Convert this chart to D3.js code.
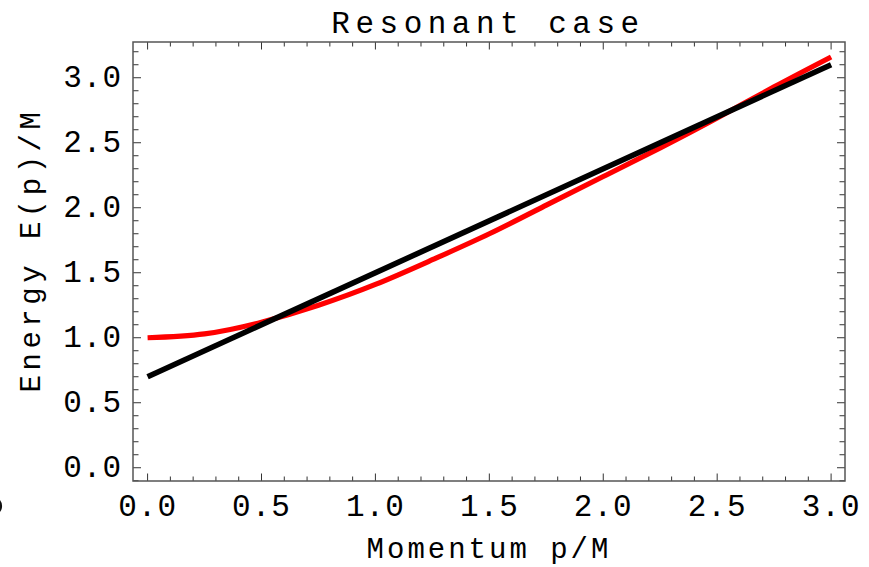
<!DOCTYPE html>
<html>
<head>
<meta charset="utf-8">
<script src="https://cdn.jsdelivr.net/npm/d3@7"></script>
<style>
  html, body { margin: 0; padding: 0; background: #fff; }
  svg { display: block; }
  text { font-family: "Liberation Mono", "Courier New", monospace; fill: #000; }
</style>
</head>
<body>
<svg id="chart" width="869" height="567"></svg>
<script>
// Dispersion curves: momentum p/M against energy E(p)/M
const momentum   = [0, 0.25, 0.5, 0.75, 1.0, 1.25, 1.5, 1.75, 2.0, 2.25, 2.5, 2.75, 3.0];
const energyRed  = [1.00, 1.03, 1.12, 1.25, 1.41, 1.60, 1.80, 2.02, 2.24, 2.46, 2.69, 2.93, 3.16];
const lineMomentum = [0, 3];
const energyBlack  = [0.70, 3.10];

const xMajor = [0, 0.5, 1.0, 1.5, 2.0, 2.5, 3.0];
const yMajor = [0, 0.5, 1.0, 1.5, 2.0, 2.5, 3.0];
const xLabels = ["0.0", "0.5", "1.0", "1.5", "2.0", "2.5", "3.0"];
const yLabels = ["0.0", "0.5", "1.0", "1.5", "2.0", "2.5", "3.0"];
const xMinor = d3.range(0, 31).map(i => i / 10);
const yMinor = d3.range(-1, 33).map(i => i / 10);

const titleText = "Resonant case";
const xTitle = "Momentum p/M";
const yTitle = "Energy E(p)/M";

const svg = d3.select("#chart");
const frameL = 133, frameR = 845, frameT = 42, frameB = 481;

const x = d3.scaleLinear().domain([-0.064, 3.061]).range([frameL, frameR]);
const y = d3.scaleLinear().domain([-0.102, 3.275]).range([frameB, frameT]);

// plotted curves, clipped to the frame
svg.append("clipPath").attr("id", "plotclip")
  .append("rect").attr("x", frameL).attr("y", frameT)
  .attr("width", frameR - frameL).attr("height", frameB - frameT);

const plot = svg.append("g").attr("clip-path", "url(#plotclip)");

const redLine = d3.line()
  .x((d, i) => x(momentum[i]))
  .y(d => y(d))
  .curve(d3.curveNatural);
plot.append("path")
  .attr("d", redLine(energyRed))
  .attr("fill", "none")
  .attr("stroke", "#ff0000")
  .attr("stroke-width", 5.2);

const blackLine = d3.line()
  .x((d, i) => x(lineMomentum[i]))
  .y(d => y(d));
plot.append("path")
  .attr("d", blackLine(energyBlack))
  .attr("fill", "none")
  .attr("stroke", "#000")
  .attr("stroke-width", 5.6);

// frame ticks on all four sides
const tickColor = "#333";
const ticks = svg.append("g").attr("stroke", tickColor).attr("stroke-width", 1);
function isMajor(v, majors) { return majors.some(m => Math.abs(m - v) < 1e-6); }

xMinor.forEach(v => {
  const len = isMajor(v, xMajor) ? 7.5 : 4.5;
  const px = x(v);
  ticks.append("line").attr("x1", px).attr("x2", px).attr("y1", frameB).attr("y2", frameB - len);
  ticks.append("line").attr("x1", px).attr("x2", px).attr("y1", frameT).attr("y2", frameT + len);
});
yMinor.forEach(v => {
  const len = isMajor(v, yMajor) ? 8 : 5.5;
  const py = y(v);
  ticks.append("line").attr("y1", py).attr("y2", py).attr("x1", frameL).attr("x2", frameL + len);
  ticks.append("line").attr("y1", py).attr("y2", py).attr("x1", frameR).attr("x2", frameR - len);
});

// frame
svg.append("rect")
  .attr("x", frameL).attr("y", frameT)
  .attr("width", frameR - frameL).attr("height", frameB - frameT)
  .attr("fill", "none")
  .attr("stroke", "#555")
  .attr("stroke-width", 1.5);

// tick labels
svg.append("g").selectAll("text").data(xMajor).join("text")
  .attr("x", d => x(d))
  .attr("y", 516)
  .attr("text-anchor", "middle")
  .attr("font-size", 31)
  .attr("letter-spacing", 1)
  .text((d, i) => xLabels[i]);

svg.append("g").selectAll("text").data(yMajor).join("text")
  .attr("x", 122)
  .attr("y", d => y(d) + 9.5)
  .attr("text-anchor", "end")
  .attr("font-size", 31)
  .attr("letter-spacing", 1)
  .text((d, i) => yLabels[i]);

// sliver of an outline at the left edge
svg.append("path")
  .attr("d", "M -6 498 A 7 8 0 0 1 -6 514")
  .attr("fill", "none")
  .attr("stroke", "#111")
  .attr("stroke-width", 2.2);

// titles
svg.append("text")
  .attr("x", 488).attr("y", 33)
  .attr("text-anchor", "middle")
  .attr("font-size", 31)
  .attr("letter-spacing", 5.5)
  .text(titleText);

svg.append("text")
  .attr("x", 489).attr("y", 558)
  .attr("text-anchor", "middle")
  .attr("font-size", 29)
  .attr("letter-spacing", 3)
  .text(xTitle);

svg.append("text")
  .attr("transform", "translate(40,250) rotate(-90)")
  .attr("text-anchor", "middle")
  .attr("font-size", 29)
  .attr("letter-spacing", 4.5)
  .text(yTitle);
</script>
</body>
</html>
